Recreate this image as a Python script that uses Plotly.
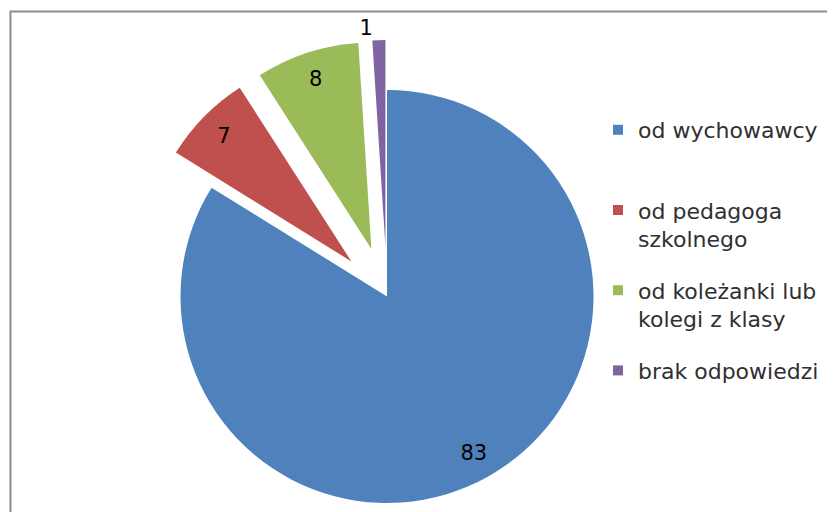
import math
import plotly.graph_objects as go

# data
labels = ["od wychowawcy", "od pedagoga szkolnego",
          "od koleżanki lub kolegi z klasy", "brak odpowiedzi"]
legend_text = ["od wychowawcy<br> ", "od pedagoga<br>szkolnego",
               "od koleżanki lub<br>kolegi z klasy", "brak odpowiedzi"]
values = [83, 7, 8, 1]
pulled = [False, True, True, True]

COLORS = ["#4F81BD", "#C0504D", "#9BBB59", "#8064A2"]
CLEAR = "rgba(0,0,0,0)"
FONT = "DejaVu Sans"
W, H = 835, 512
OFF = 8                           # page body margin
CX, CY, R = 387 - OFF, 296.5 - OFF, 206.5
PULL_PX = 50


def domain_at(cx, cy):
    return dict(x=[(cx - R) / W, (cx + R) / W],
                y=[1 - (cy + R) / H, 1 - (cy - R) / H])


def one_slice(i, cx, cy, hole=0.0, show_fill=True, textpos="inside"):
    colors = [COLORS[j] if (j == i and show_fill) else CLEAR for j in range(len(values))]
    txt = [str(values[j]) if j == i else "" for j in range(len(values))]
    return go.Pie(
        labels=labels, values=values, sort=False, direction="clockwise", rotation=0,
        hole=hole, domain=domain_at(cx, cy),
        marker=dict(colors=colors, line=dict(width=0)),
        text=txt, texttemplate="%{text}", textposition=textpos,
        insidetextorientation="horizontal",
        textfont=dict(family=FONT, size=21, color="#000000"),
        hoverinfo="skip", showlegend=False)


fig = go.Figure()
total = sum(values)
start = 0.0
for i, v in enumerate(values):
    mid = math.radians((start + v / 2) / total * 360)
    start += v
    d = PULL_PX if pulled[i] else 0
    cx, cy = CX + d * math.sin(mid), CY - d * math.cos(mid)
    if values[i] / total < 0.03:
        # tiny slice, label outside
        fig.add_trace(one_slice(i, cx, cy, textpos="outside"))
    else:
        fig.add_trace(one_slice(i, cx, cy, textpos="none"))
        # see-through ring, only used to put the label near the rim
        fig.add_trace(one_slice(i, cx, cy, hole=0.73, show_fill=False))

# legend entries
for k, (name, c) in enumerate(zip(legend_text, COLORS)):
    fig.add_trace(go.Scatter(x=[None], y=[None], mode="markers", name=name,
                             legendgroup=f"g{k}",
                             marker=dict(symbol="square", size=10, color=c)))

fig.add_shape(type="rect", xref="paper", yref="paper",
              x0=(10.5 - OFF) / W, x1=1.05, y0=-0.05, y1=1 - (11.5 - OFF) / H,
              line=dict(color="#8c8c8c", width=2), fillcolor=CLEAR, layer="below")

fig.update_layout(
    width=W, height=H,
    margin=dict(l=0, r=0, t=0, b=0),
    paper_bgcolor="white", plot_bgcolor="white",
    xaxis=dict(visible=False), yaxis=dict(visible=False),
    legend=dict(x=(598 - OFF) / W, y=1 - (109 - OFF) / H,
                xanchor="left", yanchor="top",
                valign="top", itemwidth=30, tracegroupgap=20,
                font=dict(family=FONT, size=22, color="#303030"),
                bgcolor=CLEAR),
)

fig.write_html("out.html")
